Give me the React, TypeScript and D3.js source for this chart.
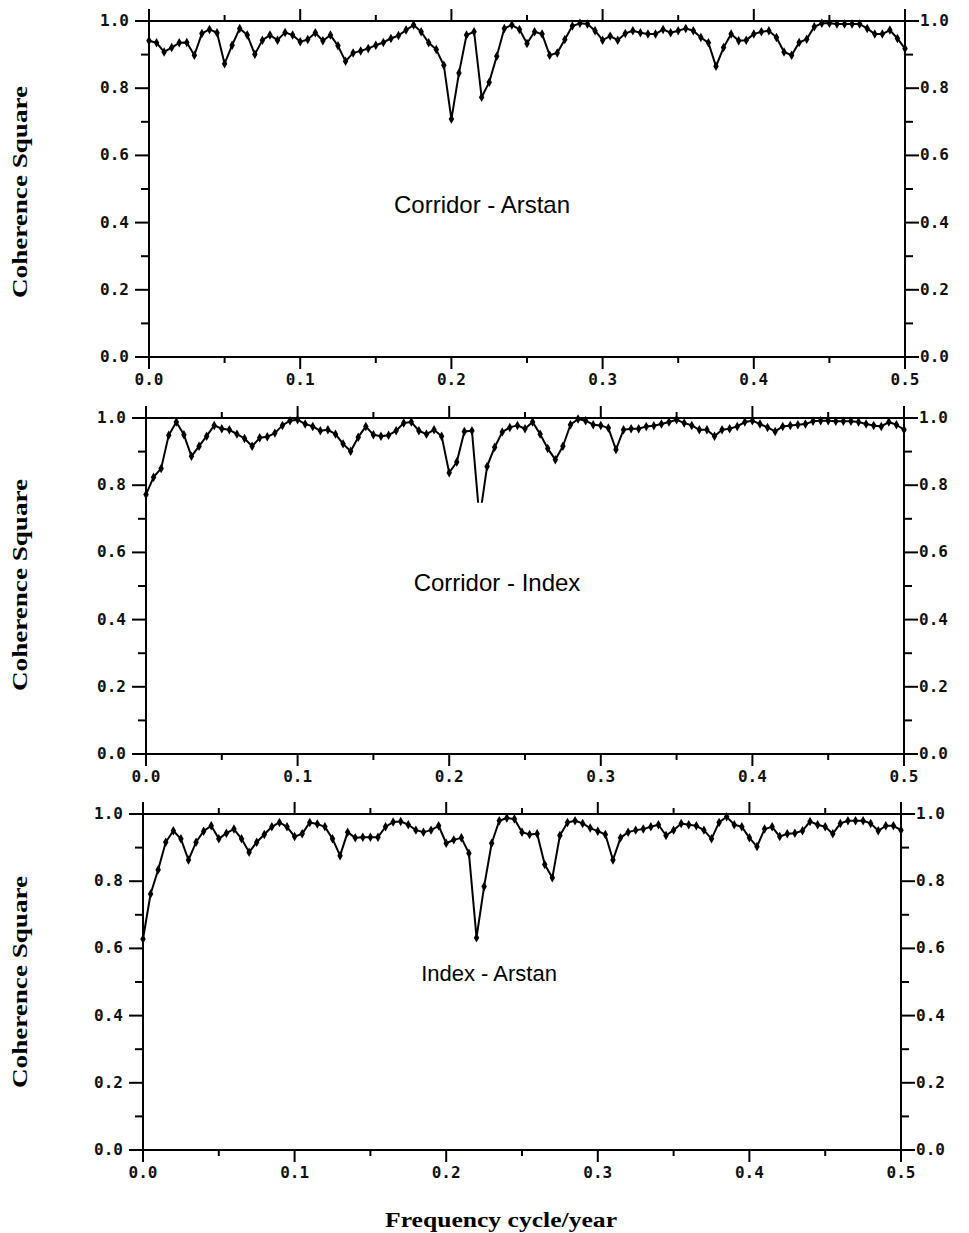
import React from "react";
import * as d3 from "d3";

const freqStep = 0.005;
const xTicks = [0, 0.1, 0.2, 0.3, 0.4, 0.5];
const yTicks = [0, 0.2, 0.4, 0.6, 0.8, 1.0];

const corridorArstan = [
  0.941, 0.935, 0.908, 0.921, 0.935, 0.936, 0.898, 0.963, 0.975, 0.965,
  0.873, 0.928, 0.978, 0.958, 0.901, 0.943, 0.958, 0.943, 0.966, 0.958,
  0.938, 0.945, 0.965, 0.941, 0.958, 0.926, 0.88, 0.905, 0.911, 0.918,
  0.928, 0.936, 0.948, 0.957, 0.973, 0.988, 0.968, 0.935, 0.915, 0.868,
  0.708, 0.845, 0.958, 0.968, 0.773, 0.818, 0.895, 0.978, 0.988, 0.975,
  0.933, 0.968, 0.961, 0.898, 0.905, 0.945, 0.985, 0.993, 0.991, 0.971,
  0.943, 0.955, 0.943, 0.963, 0.971, 0.965, 0.961, 0.961, 0.975, 0.965,
  0.971, 0.978, 0.971, 0.951, 0.935, 0.865, 0.921, 0.961, 0.941, 0.943,
  0.961, 0.968, 0.971, 0.951, 0.908, 0.898, 0.936, 0.946, 0.983, 0.993,
  0.993, 0.991, 0.991, 0.991, 0.991, 0.978, 0.961, 0.961, 0.973, 0.948,
  0.918,
];

const corridorIndex = [
  0.772, 0.824, 0.85, 0.949, 0.988, 0.95, 0.886, 0.916, 0.946, 0.978,
  0.968, 0.965, 0.952, 0.939, 0.916, 0.941, 0.944, 0.955, 0.978, 0.992,
  0.995, 0.982, 0.975, 0.962, 0.965, 0.952, 0.923, 0.901, 0.943, 0.975,
  0.95, 0.946, 0.949, 0.962, 0.985, 0.988, 0.962, 0.952, 0.965, 0.946,
  0.837, 0.869, 0.96, 0.962, 0.7, 0.856, 0.913, 0.958, 0.972, 0.978,
  0.968, 0.988, 0.952, 0.909, 0.876, 0.916, 0.98, 0.997, 0.992, 0.98,
  0.978, 0.97, 0.906, 0.965, 0.968, 0.968, 0.975, 0.977, 0.982, 0.988,
  0.995, 0.985, 0.978, 0.965, 0.965, 0.946, 0.965, 0.968, 0.975, 0.988,
  0.992, 0.982, 0.972, 0.96, 0.975, 0.978, 0.98, 0.982, 0.99, 0.992,
  0.992, 0.99, 0.99, 0.99, 0.988, 0.982, 0.978, 0.975, 0.988, 0.98,
  0.965,
];

const indexArstan = [
  0.628, 0.762, 0.834, 0.916, 0.95, 0.926, 0.863, 0.916, 0.949, 0.965,
  0.926, 0.943, 0.955, 0.926, 0.886, 0.916, 0.939, 0.962, 0.975, 0.962,
  0.933, 0.941, 0.975, 0.97, 0.962, 0.926, 0.876, 0.946, 0.929, 0.931,
  0.931, 0.931, 0.962, 0.976, 0.978, 0.968, 0.952, 0.946, 0.952, 0.965,
  0.913, 0.923, 0.929, 0.883, 0.632, 0.784, 0.913, 0.98, 0.988, 0.985,
  0.946, 0.939, 0.941, 0.85, 0.81, 0.936, 0.975, 0.98, 0.972, 0.958,
  0.949, 0.939, 0.863, 0.929, 0.946, 0.952, 0.955, 0.962, 0.968, 0.936,
  0.952, 0.972, 0.968, 0.965, 0.952, 0.926, 0.975, 0.992, 0.968, 0.962,
  0.929, 0.903, 0.955, 0.962, 0.933, 0.941, 0.943, 0.95, 0.978, 0.968,
  0.962, 0.941, 0.972, 0.98, 0.98, 0.98, 0.972, 0.95, 0.965, 0.965,
  0.952,
];

const panelTitles = ["Corridor - Arstan", "Corridor - Index", "Index - Arstan"];
const panelSeries = [corridorArstan, corridorIndex, indexArstan];
const yAxisTitle = "Coherence Square";
const xAxisTitle = "Frequency cycle/year";

const layouts = [
  { left: 149, right: 905, top: 21, bottom: 357, labelX: 482, labelY: 213, labelSize: 24, titleY: 192, clipMin: 0 },
  { left: 146, right: 904, top: 418, bottom: 754, labelX: 497, labelY: 591, labelSize: 24, titleY: 585, clipMin: 0.748 },
  { left: 143, right: 901, top: 814, bottom: 1150, labelX: 489, labelY: 981, labelSize: 22, titleY: 982, clipMin: 0 },
];

const tickFont = "'DejaVu Sans Mono', monospace";
const fmt = (v: number) => v.toFixed(1);

function Panel({ idx }: { idx: number }) {
  const L = layouts[idx];
  const values = panelSeries[idx];
  const data = values.map((v, i) => ({ f: i * freqStep, v }));
  const x = d3.scaleLinear().domain([0, 0.5]).range([L.left, L.right]);
  const y = d3.scaleLinear().domain([0, 1]).range([L.bottom, L.top]);
  const line = d3
    .line<{ f: number; v: number }>()
    .x((d) => x(d.f))
    .y((d) => y(d.v));
  const diamond = d3.symbol().type(d3.symbolDiamond).size(26)();
  const minorX = d3.range(0, 0.5001, 0.05);
  const minorY = d3.range(0, 1.0001, 0.1);
  const clipId = `clip${idx}`;
  const clipTop = L.top - 10;
  const clipBottom = y(L.clipMin);
  return (
    <g>
      <defs>
        <clipPath id={clipId}>
          <rect x={L.left - 5} y={clipTop} width={L.right - L.left + 10} height={clipBottom - clipTop} />
        </clipPath>
      </defs>
      <rect x={L.left} y={L.top} width={L.right - L.left} height={L.bottom - L.top} fill="none" stroke="#000" strokeWidth={2} />
      {minorX.map((t, i) => {
        const major = i % 2 === 0;
        const len = major ? 12 : 6;
        return (
          <g key={`xt${i}`}>
            <line x1={x(t)} x2={x(t)} y1={L.bottom} y2={L.bottom + len} stroke="#000" strokeWidth={2} />
            <line x1={x(t)} x2={x(t)} y1={L.top} y2={L.top - len} stroke="#000" strokeWidth={2} />
          </g>
        );
      })}
      {xTicks.map((t) => (
        <text key={`xl${t}`} x={x(t)} y={L.bottom + 28} textAnchor="middle" fontFamily={tickFont} fontWeight="bold" fontSize={16} fill="#111">
          {fmt(t)}
        </text>
      ))}
      {minorY.map((t, i) => {
        const major = i % 2 === 0;
        const len = major ? 14 : 8;
        return (
          <g key={`yt${i}`}>
            <line x1={L.left} x2={L.left - len} y1={y(t)} y2={y(t)} stroke="#000" strokeWidth={2} />
            <line x1={L.right} x2={L.right + len} y1={y(t)} y2={y(t)} stroke="#000" strokeWidth={2} />
          </g>
        );
      })}
      {yTicks.map((t) => (
        <g key={`yl${t}`}>
          <text x={L.left - 20} y={y(t) + 5} textAnchor="end" fontFamily={tickFont} fontWeight="bold" fontSize={16} fill="#111">
            {fmt(t)}
          </text>
          <text x={L.right + 15} y={y(t) + 5} textAnchor="start" fontFamily={tickFont} fontWeight="bold" fontSize={16} fill="#111">
            {fmt(t)}
          </text>
        </g>
      ))}
      <g clipPath={`url(#${clipId})`}>
        <path d={line(data) || ""} fill="none" stroke="#000" strokeWidth={2} strokeLinejoin="round" />
        {data.map((d, i) => (
          <path key={i} d={diamond || ""} transform={`translate(${x(d.f)},${y(d.v)})`} fill="#000" />
        ))}
      </g>
      <text x={L.labelX} y={L.labelY} textAnchor="middle" fontFamily="'Liberation Sans', Arial, sans-serif" fontSize={L.labelSize} fill="#000">
        {panelTitles[idx]}
      </text>
      <text
        transform={`translate(27,${L.titleY}) rotate(-90)`}
        textAnchor="middle"
        fontFamily="'Liberation Serif', 'Times New Roman', serif"
        fontWeight="bold"
        fontSize={22}
        textLength={212}
        lengthAdjust="spacingAndGlyphs"
        fill="#000"
      >
        {yAxisTitle}
      </text>
    </g>
  );
}

export default function App() {
  return (
    <svg width={969} height={1233} style={{ position: "absolute", left: 0, top: 0, background: "#fff" }}>
      <rect width={969} height={1233} fill="#fff" />
      {layouts.map((_, i) => (
        <Panel key={i} idx={i} />
      ))}
      <text
        x={501}
        y={1227}
        textAnchor="middle"
        fontFamily="'Liberation Serif', 'Times New Roman', serif"
        fontWeight="bold"
        fontSize={22}
        textLength={232}
        lengthAdjust="spacingAndGlyphs"
        fill="#000"
      >
        {xAxisTitle}
      </text>
    </svg>
  );
}
